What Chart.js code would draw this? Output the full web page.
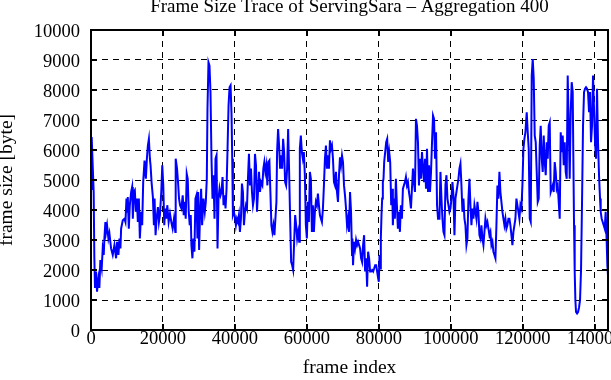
<!DOCTYPE html>
<html>
<head>
<meta charset="utf-8">
<script src="https://cdn.jsdelivr.net/npm/chart.js@4.4.1/dist/chart.umd.min.js"></script>
<style>
html,body{margin:0;padding:0;overflow:hidden;background:#fff;width:611px;height:380px;}
#wrap{position:absolute;left:0;top:0;width:640px;height:380px;}
canvas{display:block;}
</style>
</head>
<body>
<div id="wrap"><canvas id="c" width="640" height="380" style="width:640px;height:380px"></canvas></div>
<script>
const chartTitle = 'Frame Size Trace of ServingSara \u2013 Aggregation 400';
const xAxisTitle = 'frame index';
const yAxisTitle = 'frame size [byte]';
const xTickValues = [0, 20000, 40000, 60000, 80000, 100000, 120000, 140000];
const yTickValues = [0, 1000, 2000, 3000, 4000, 5000, 6000, 7000, 8000, 9000, 10000];
const xMax = 143700;
const yMax = 10000;

const frameIndex = [
  0,186,744,930,1116,1395,1674,2046,2325,2604,
  2976,3255,3534,3720,3999,4185,4464,4836,5115,5580,
  6045,6510,6975,7254,7626,7905,8184,8370,8835,9300,
  9579,9858,10044,10230,10509,10788,11160,11439,11625,11904,
  12183,12462,12741,13020,13299,13578,13950,14229,14508,14880,
  15252,15531,15810,16089,16368,16554,16833,17205,17484,17670,
  17949,18228,18600,18879,19158,19530,19809,20088,20367,20646,
  20925,21204,21576,21948,22320,22692,23064,23436,
  23539,23911,24190,24469,24748,25120,25492,25771,26050,26329,
  26608,26887,27166,27445,27724,27910,28189,28468,28747,29026,
  29305,29584,29770,30049,30328,30607,30886,31258,31630,31909,
  32188,32374,32653,32932,33211,33490,33769,34048,34327,34606,
  34885,35164,35443,35722,36001,36280,36559,36838,37117,37396,
  37675,37954,38233,38512,38791,39070,39256,39442,39721,40000,
  40279,40558,40837,41116,41395,41674,41953,42232,42511,42790,
  43069,43348,43627,43906,44185,44464,44743,45022,45301,45580,
  45859,46138,46417,46696,46975,47254,47626,47905,48184,
  48468,48747,49026,49305,49584,49863,50142,50421,50700,50979,
  51258,51537,51723,52002,52281,52560,52839,53118,53397,53676,
  53955,54234,54513,54792,55071,55350,55629,55908,56187,56466,
  56745,57024,57303,57582,57861,58047,58326,58605,58884,59163,
  59442,59721,60000,60279,60558,60837,61116,61395,61674,61953,
  62232,62511,62790,63069,63348,63627,63906,64185,64464,64743,
  65022,65301,65580,65859,66138,66417,66696,66975,67254,67533,
  67812,68091,68370,68649,68928,69207,69486,69765,70044,70323,
  70602,70881,71160,71439,71718,71997,72276,72555,
  72653,72839,73118,73397,73676,73955,74234,74513,74792,75071,
  75350,75629,75908,76187,76466,76745,77024,77303,77582,77861,
  78140,78419,78698,78977,79256,79535,79814,80000,80186,80372,
  80558,80744,80930,81116,81302,81488,81767,82046,82325,82604,
  82883,83162,83441,83720,83906,84185,84464,84743,85022,85301,
  85580,85859,86138,86417,86696,86975,87254,87533,87812,88091,
  88370,88649,88928,89207,89486,89765,90044,90323,90602,90881,
  91160,91439,91718,91997,92276,92555,92834,93113,93392,93671,
  93950,94229,94508,94787,95066,95345,95624,95903,96182,96461,
  96852,97130,97408,97685,97963,98241,98519,98797,99074,99352,
  99630,99908,100186,100463,100741,101019,101297,101575,101852,102130,
  102408,102686,102964,103241,103519,103797,104075,104353,104630,104908,
  105186,105464,105742,106019,106297,106575,106853,107131,107408,107686,
  107964,108242,108520,108797,109075,109353,109631,109909,110186,110464,
  110742,111020,111298,111575,111853,112131,112409,112687,112964,113242,
  113520,113798,114076,114353,114631,114909,115187,115465,115742,116020,
  116298,116576,116854,117131,117409,117687,117965,118243,118520,118798,
  119076,119354,119632,119909,120187,120465,120743,
  121111,121389,121666,121944,122222,122500,122778,123055,123333,123611,
  123889,124167,124444,124722,125000,125278,125556,125833,126111,126389,
  126667,126944,127222,127500,127778,128056,128333,128611,128889,129167,
  129444,129722,130000,130278,130556,130833,131111,131389,131667,131944,
  132222,132500,132778,133056,133333,133611,133889,134074,134260,134444,
  134630,134815,135093,135371,135648,135926,136204,136481,136759,137037,
  137316,137594,137871,138149,138427,138705,138983,139260,139538,139816,
  140094,140372,140649,140927,141205,141483,141668,141946,142224,142501,
  142779,143057,143335,143520,143700
];

const frameSize = [
  4700,6430,4600,2400,1400,1950,1280,1720,1400,2330,
  2050,2720,2500,3050,3600,3270,3490,3050,3220,2720,
  2500,2830,2390,2940,2500,3050,2720,3380,3660,3710,
  3600,4380,3940,4430,3380,4160,4600,4770,3710,4600,
  4660,3940,4380,3600,4380,3050,3940,3490,4930,5650,
  5040,5710,6150,6370,5710,5490,4930,4430,3490,4380,
  3160,3710,4100,3600,3830,4600,5490,4820,3490,4050,
  3710,4160,3600,3880,3600,3380,3710,3270,
  5710,5380,4930,4380,4160,4050,4490,3830,4270,3710,
  5210,5040,3940,3490,3830,2830,2390,3050,2610,4380,
  4490,3050,4600,2670,3940,4710,3490,4380,3940,4270,
  5040,7370,8920,8810,7930,5710,4380,5160,3710,5710,
  5820,2720,4380,4710,4490,4600,5100,4160,4490,4050,
  4710,6040,7480,8090,8150,7150,5710,3830,3940,3770,
  3490,3710,3600,3830,3270,3710,4880,4600,3490,3940,
  4160,4050,5040,5870,4820,5380,4600,4160,4380,5870,
  5490,3940,4600,5270,4600,4930,4820,5380,5600,
  5270,5490,4820,5600,5650,4600,3490,3270,3490,3160,
  3710,4270,5930,6700,6150,5380,5820,5380,6370,5930,
  4930,4820,5380,6700,5270,3710,2270,2160,2000,2940,
  3830,3490,3050,3270,2940,6040,6480,5930,5710,5930,
  5160,3490,3050,4270,3600,5270,5040,3270,4160,3270,
  3940,4270,4160,4550,4160,3830,3710,3600,4050,4820,
  5710,6150,5380,5820,5380,6320,6040,6150,5710,4930,
  4820,5270,4600,4270,5160,5760,5490,5820,5600,4820,
  4490,4050,3490,3710,3270,4600,3940,2500,
  3050,2160,2940,2720,3000,2830,2940,2830,2720,2390,
  2270,2830,3160,1950,2390,1440,2610,2390,1950,1950,
  2000,1950,2050,2160,2160,1950,1720,1610,2500,2050,
  3050,3830,4380,4930,5040,5600,5930,6260,6370,5600,
  5930,5600,4160,4710,3490,4380,3710,5040,4160,3380,
  3940,3270,4160,3710,4710,4820,4930,5100,4820,4930,
  4600,4380,4050,4710,5380,4930,4600,7040,6810,6260,
  4820,5710,5040,5930,5380,4930,5710,4710,6040,4600,
  5490,4600,5270,6260,7150,7040,5710,6590,4160,3710,
  3710,5270,4380,3710,3270,3160,4820,5160,4380,4160,
  3940,4050,4380,4930,4490,3160,4380,4600,4820,5040,
  5380,5540,4820,3940,4380,3710,3490,2830,3050,4380,
  5040,4160,3490,4050,3710,4160,3940,3710,4270,3940,
  3160,3050,3490,3050,2830,3270,3710,3490,3600,3380,
  3160,3270,2830,2940,2610,2500,2390,3490,4820,4380,
  5270,4600,4270,3940,3710,3490,3710,3380,3490,3710,
  3710,3490,3160,2830,3270,3490,3710,4380,4160,3940,
  3710,4160,4050,4820,6040,6370,6590,
  7260,6590,6040,3710,3600,8480,9030,8370,6480,6260,
  5270,4270,4380,6150,6810,5710,5270,6480,5600,5160,
  6260,5710,6810,6920,4600,4710,4820,4600,5600,5270,
  4710,4820,4270,3710,6590,5930,6480,5490,6260,5270,
  5040,8480,6810,5040,7260,8260,7930,5710,3490,1950,
  1000,600,550,600,750,1000,2000,4270,6810,7930,
  8040,8090,8040,7930,7260,7930,6260,6810,8480,7370,
  6260,5710,8040,6260,5160,4380,3940,3710,3600,3490,
  3380,3940,2940,2160,1830
];

const FONT = '"Liberation Serif", "Times New Roman", serif';
Chart.defaults.font.family = FONT;
Chart.defaults.color = '#000';

const points = [];
const n = Math.min(frameIndex.length, frameSize.length);
for (let i = 0; i < n; i++) points.push({x: frameIndex[i], y: frameSize[i]});

const frameAndTicks = {
  id: 'frameAndTicks',
  afterDatasetsDraw(chart) {
    const {ctx, chartArea: {left, right, top, bottom}, scales: {x, y}} = chart;
    ctx.save();
    ctx.strokeStyle = '#000';
    ctx.lineWidth = 2;
    ctx.beginPath();
    x.ticks.forEach(t => {
      const px = Math.round(x.getPixelForValue(t.value));
      ctx.moveTo(px, bottom); ctx.lineTo(px, bottom - 6);
      ctx.moveTo(px, top); ctx.lineTo(px, top + 6);
    });
    y.ticks.forEach(t => {
      const py = Math.round(y.getPixelForValue(t.value));
      ctx.moveTo(left, py); ctx.lineTo(left + 6, py);
      ctx.moveTo(right, py); ctx.lineTo(right - 6, py);
    });
    ctx.stroke();
    ctx.lineWidth = 2;
    ctx.strokeRect(Math.round(left), Math.round(top), Math.round(right - left), Math.round(bottom - top));
    ctx.restore();
  }
};

new Chart(document.getElementById('c').getContext('2d'), {
  type: 'line',
  data: {
    datasets: [{
      data: points,
      borderColor: '#0000ff',
      borderWidth: 2,
      pointRadius: 0,
      fill: false,
      tension: 0
    }]
  },
  options: {
    responsive: false,
    animation: false,
    devicePixelRatio: 1,
    layout: {padding: {left: 0, right: 32, top: 0, bottom: 0}},
    plugins: {
      legend: {display: false},
      tooltip: {enabled: false},
      title: {
        display: true,
        text: chartTitle,
        fullSize: false,
        color: '#000',
        font: {family: FONT, size: 19, weight: 'normal', lineHeight: 0.75},
        padding: {top: 0, bottom: 15.75}
      }
    },
    scales: {
      x: {
        type: 'linear',
        min: 0,
        max: xMax,
        afterBuildTicks: s => { s.ticks = xTickValues.map(v => ({value: v})); },
        afterFit: s => { s.height = 50; },
        grid: {color: '#000', lineWidth: 1, drawTicks: false},
        border: {display: false, dash: [6, 5]},
        ticks: {
          font: {family: FONT, size: 18.5, lineHeight: 1},
          padding: 0, maxRotation: 0, autoSkip: false, color: '#000',
          callback: v => String(v)
        },
        title: {
          display: true, text: xAxisTitle, color: '#000',
          font: {family: FONT, size: 19.5, lineHeight: 1},
          padding: {top: 0, bottom: 2.5}
        }
      },
      y: {
        type: 'linear',
        min: 0,
        max: yMax,
        afterBuildTicks: s => { s.ticks = yTickValues.map(v => ({value: v})); },
        afterFit: s => { s.width = 91; },
        grid: {color: '#000', lineWidth: 1, drawTicks: false},
        border: {display: false, dash: [6, 5]},
        ticks: {
          font: {family: FONT, size: 18.5, lineHeight: 1},
          padding: 11, labelOffset: 2, color: '#000',
          callback: v => String(v)
        },
        title: {
          display: true, text: yAxisTitle, color: '#000',
          font: {family: FONT, size: 19.5, lineHeight: 0.7},
          padding: {top: 0, bottom: 0}
        }
      }
    }
  },
  plugins: [frameAndTicks]
});
</script>
</body>
</html>
